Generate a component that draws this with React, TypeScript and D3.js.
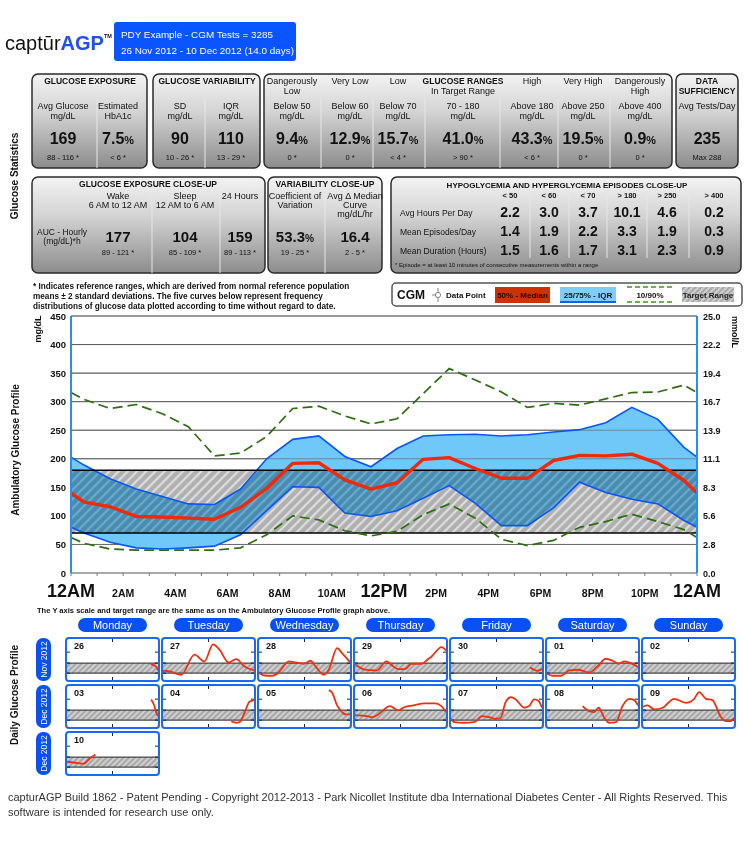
import React from 'react';
import * as d3 from 'd3';

const FONT = "'Liberation Sans', Arial, Helvetica, sans-serif";

// ambulatory glucose profile, mg/dL at each half hour
const agpHours = [0, 0.5, 1.5, 2.5, 3.5, 4.5, 5.5, 6.5, 7.5, 8.5, 9.5, 10.5, 11.5, 12.5, 13.5, 14.5, 15.5, 16.5, 17.5, 18.5, 19.5, 20.5, 21.5, 22.5, 23.5, 24];
const p10 = [62, 52, 42, 40, 40, 40, 40, 44, 67, 100, 93, 74, 65, 73, 102, 121, 96, 59, 48, 57, 80, 90, 103, 90, 76, 62];
const p25 = [80, 70, 54, 44, 42, 44, 47, 67, 109, 151, 150, 105, 99, 109, 131, 153, 122, 83, 83, 114, 159, 141, 129, 121, 92, 80];
const p50 = [140, 124, 116, 99, 98, 96, 94, 115, 148, 192, 193, 163, 147, 158, 199, 202, 183, 166, 166, 197, 206, 205, 208, 192, 162, 140];
const p75 = [203, 189, 165, 147, 134, 121, 120, 147, 200, 234, 240, 204, 186, 218, 240, 242, 243, 240, 242, 247, 251, 263, 290, 269, 220, 203];
const p90 = [316, 304, 288, 295, 279, 256, 205, 210, 239, 288, 292, 275, 261, 270, 314, 358, 338, 317, 290, 297, 294, 305, 316, 317, 329, 316];

const mgTicks = [0, 50, 100, 150, 200, 250, 300, 350, 400, 450];
const mmolLabels = ['0.0', '2.8', '5.6', '8.3', '11.1', '13.9', '16.7', '19.4', '22.2', '25.0'];
const hourLabelAt = [0, 2, 4, 6, 8, 10, 12, 14, 16, 18, 20, 22, 24];
const hourLabels = ['12AM', '2AM', '4AM', '6AM', '8AM', '10AM', '12PM', '2PM', '4PM', '6PM', '8PM', '10PM', '12AM'];
const targetRange = [70, 180];

// daily profiles
const weekDays = ['Monday', 'Tuesday', 'Wednesday', 'Thursday', 'Friday', 'Saturday', 'Sunday'];
const weekMonths = ['Nov 2012', 'Dec 2012', 'Dec 2012'];
const dayNumbers = [
  ['26', '27', '28', '29', '30', '01', '02'],
  ['03', '04', '05', '06', '07', '08', '09'],
  ['10'],
];
// [hour, mg/dL]
const dailyTraces: number[][][][] = [
  [
    [[22.1, 169], [23.4, 143], [24, 99]],
    [[0, 96], [1.8, 88], [4.8, 52], [8.3, 272], [10.9, 198], [13.2, 385], [14.9, 327], [17.3, 187], [19.3, 224], [21.5, 143], [24, 99]],
    [[0, 70], [1.3, 44], [3.5, 41], [4.8, 63], [7.9, 198], [9.6, 187], [11.8, 173], [13.6, 206], [14.9, 143], [17.1, 52], [18.4, 107], [20.6, 345], [21.9, 290], [24, 190]],
    [[0, 169], [1.5, 125], [3, 105], [4.5, 103], [5.7, 99], [8.3, 198], [10.1, 143], [11.4, 114], [13.2, 114], [14.9, 173], [17.5, 173], [19.3, 224], [20.2, 253], [22.8, 356], [24, 320]],
    [[20.8, 132], [22.8, 96], [24, 114]],
    [[0, 63], [1.5, 41], [3.7, 41], [5.9, 99], [8.1, 107], [11.1, 77], [13.3, 143], [15.5, 228], [17.3, 206], [18.9, 173], [20.4, 198], [22.1, 180], [24, 136]],
    [],
  ],
  [
    [[22.2, 297], [23, 231], [23.5, 158], [24, 114]],
    [[18, 59], [19.3, 41], [20.2, 48], [21.5, 151], [22.8, 272], [24, 290]],
    [[18.4, 400], [19.3, 371], [20.6, 231], [21.9, 158], [22.8, 132], [24, 132]],
    [[0, 125], [3.2, 114], [4.5, 100], [6.1, 132], [9.2, 224], [11.4, 176], [12.7, 206], [15.4, 231], [18.4, 253], [21.1, 253], [22.8, 224], [24, 158]],
    [[0, 85], [0.8, 48], [3.4, 41], [6.1, 48], [8.2, 114], [10, 103], [11.8, 85], [13.1, 96], [14.4, 268], [15.8, 323], [17.1, 297], [19.3, 206], [20.6, 224], [21.9, 297], [23.1, 279], [24, 206]],
    [[9.4, 224], [11.1, 169], [12.4, 158], [13.6, 206], [15.1, 96], [16.4, 41], [18.2, 48], [19.9, 224], [21.7, 304], [23, 290], [24, 231]],
    [[0, 217], [1.2, 231], [3, 187], [5.2, 206], [8.2, 304], [11.3, 260], [13.5, 304], [14.8, 378], [16.6, 304], [18.3, 290], [20.5, 107], [21.8, 59], [23.2, 59], [24, 96]],
  ],
  [
    [[0, 129], [2.2, 118], [4.4, 107], [5.7, 154], [7.5, 209]],
  ],
];

// statistics
const exposureHeads = [['Avg Glucose', 'mg/dL'], ['Estimated', 'HbA1c']];
const exposureValues = ['169', '7.5'];
const exposureUnits = ['', '%'];
const exposureRefs = ['88 - 116 *', '< 6 *'];
const variabilityHeads = [['SD', 'mg/dL'], ['IQR', 'mg/dL']];
const variabilityValues = ['90', '110'];
const variabilityRefs = ['10 - 26 *', '13 - 29 *'];
const rangeNames = [['Dangerously', 'Low'], ['Very Low'], ['Low'], ['GLUCOSE RANGES', 'In Target Range'], ['High'], ['Very High'], ['Dangerously', 'High']];
const rangeHeads = [['Below 50', 'mg/dL'], ['Below 60', 'mg/dL'], ['Below 70', 'mg/dL'], ['70 - 180', 'mg/dL'], ['Above 180', 'mg/dL'], ['Above 250', 'mg/dL'], ['Above 400', 'mg/dL']];
const rangeValues = ['9.4', '12.9', '15.7', '41.0', '43.3', '19.5', '0.9'];
const rangeRefs = ['0 *', '0 *', '< 4 *', '> 90 *', '< 6 *', '0 *', '0 *'];
const closeUpHeads = [['Wake', '6 AM to 12 AM'], ['Sleep', '12 AM to 6 AM'], ['24 Hours']];
const closeUpValues = ['177', '104', '159'];
const closeUpRefs = ['89 - 121 *', '85 - 109 *', '89 - 113 *'];
const varCloseHeads = [['Coefficient of', 'Variation'], ['Avg \u0394 Median', 'Curve', 'mg/dL/hr']];
const varCloseValues = ['53.3', '16.4'];
const varCloseUnits = ['%', ''];
const varCloseRefs = ['19 - 25 *', '2 - 5 *'];
const episodeCols = ['< 50', '< 60', '< 70', '> 180', '> 250', '> 400'];
const episodeRows = ['Avg Hours Per Day', 'Mean Episodes/Day', 'Mean Duration (Hours)'];
const episodeValues = [
  ['2.2', '3.0', '3.7', '10.1', '4.6', '0.2'],
  ['1.4', '1.9', '2.2', '3.3', '1.9', '0.3'],
  ['1.5', '1.6', '1.7', '3.1', '2.3', '0.9'],
];

const Txt = ({ x, y, children, size = 9, weight = 'normal', anchor = 'middle', fill = '#111', ...rest }: any) => (
  <text x={x} y={y} fontSize={size} fontWeight={weight} textAnchor={anchor} fill={fill} {...rest}>{children}</text>
);

const Box = ({ x, y, w, h }: any) => (
  <rect x={x} y={y} width={w} height={h} rx={6} fill="url(#boxGrad)" stroke="#2b2b2b" strokeWidth={1.5} />
);

const Divider = ({ x, y1, y2 }: any) => <line x1={x} x2={x} y1={y1} y2={y2} stroke="#e6e6e6" strokeWidth={1} />;

const Val = ({ x, y, v, unit, size = 16 }: any) => (
  <text x={x} y={y} textAnchor="middle" fontWeight="bold" fontSize={size} fill="#111">
    {v}
    {unit ? <tspan fontSize={size * 0.68}>{unit}</tspan> : null}
  </text>
);

function Statistics() {
  const r1 = [63, 118];
  const r2 = [180, 231];
  const r3 = [292, 350, 398, 463, 532, 583, 640];
  const c5 = [118, 185, 240];
  const c6 = [295, 355];
  const c7 = [510, 549, 588, 627, 667, 714];
  return (
    <g>
      <Box x={32} y={74} w={115} h={94} />
      <Box x={153} y={74} w={107} h={94} />
      <Box x={264} y={74} w={408} h={94} />
      <Box x={676} y={74} w={62} h={94} />
      <Box x={32} y={177} w={233} h={96} />
      <Box x={268} y={177} w={114} h={96} />
      <Box x={391} y={177} w={350} h={96} />

      <Divider x={97} y1={98} y2={168} />
      <Divider x={205} y1={98} y2={168} />
      {[321, 373, 425, 500, 558, 610].map((d) => <Divider key={d} x={d} y1={98} y2={168} />)}
      <Divider x={152} y1={190} y2={273} />
      <Divider x={220} y1={190} y2={273} />
      <Divider x={325} y1={190} y2={273} />
      {[530, 569, 607, 647, 689].map((d) => <Divider key={d} x={d} y1={191} y2={258} />)}

      <Txt x={90} y={84} size={8.5} weight="bold">GLUCOSE EXPOSURE</Txt>
      {exposureHeads.map((h, i) => h.map((t, j) => <Txt key={i + '-' + j} x={r1[i]} y={109 + j * 9.5}>{t}</Txt>))}
      {exposureValues.map((v, i) => <Val key={i} x={r1[i]} y={144} v={v} unit={exposureUnits[i]} />)}
      {exposureRefs.map((t, i) => <Txt key={i} x={r1[i]} y={160} size={7.5}>{t}</Txt>)}

      <Txt x={207} y={84} size={8.5} weight="bold">GLUCOSE VARIABILITY</Txt>
      {variabilityHeads.map((h, i) => h.map((t, j) => <Txt key={i + '-' + j} x={r2[i]} y={109 + j * 9.5}>{t}</Txt>))}
      {variabilityValues.map((v, i) => <Val key={i} x={r2[i]} y={144} v={v} />)}
      {variabilityRefs.map((t, i) => <Txt key={i} x={r2[i]} y={160} size={7.5}>{t}</Txt>)}

      {rangeNames.map((h, i) => h.map((t, j) => (
        <Txt key={i + '-' + j} x={r3[i]} y={84 + j * 10} size={i === 3 && j === 0 ? 8.5 : 9} weight={i === 3 && j === 0 ? 'bold' : 'normal'}>{t}</Txt>
      )))}
      {rangeHeads.map((h, i) => h.map((t, j) => <Txt key={i + '-' + j} x={r3[i]} y={109 + j * 9.5}>{t}</Txt>))}
      {rangeValues.map((v, i) => <Val key={i} x={r3[i]} y={144} v={v} unit="%" />)}
      {rangeRefs.map((t, i) => <Txt key={i} x={r3[i]} y={160} size={7.5}>{t}</Txt>)}

      <Txt x={707} y={84} size={8.5} weight="bold">DATA</Txt>
      <Txt x={707} y={94} size={8.5} weight="bold">SUFFICIENCY</Txt>
      <Txt x={707} y={109}>Avg Tests/Day</Txt>
      <Val x={707} y={144} v="235" />
      <Txt x={707} y={160} size={7.5}>Max 288</Txt>

      <Txt x={148} y={187} size={8.5} weight="bold">GLUCOSE EXPOSURE CLOSE-UP</Txt>
      {closeUpHeads.map((h, i) => h.map((t, j) => <Txt key={i + '-' + j} x={c5[i]} y={199 + j * 9}>{t}</Txt>))}
      <Txt x={62} y={235} size={8.5}>AUC - Hourly</Txt>
      <Txt x={62} y={243.5} size={8.5}>(mg/dL)*h</Txt>
      {closeUpValues.map((v, i) => <Val key={i} x={c5[i]} y={242} v={v} size={15} />)}
      {closeUpRefs.map((t, i) => <Txt key={i} x={c5[i]} y={255} size={7.5}>{t}</Txt>)}

      <Txt x={325} y={187} size={8.5} weight="bold">VARIABILITY CLOSE-UP</Txt>
      {varCloseHeads.map((h, i) => h.map((t, j) => <Txt key={i + '-' + j} x={c6[i]} y={199 + j * 9}>{t}</Txt>))}
      {varCloseValues.map((v, i) => <Val key={i} x={c6[i]} y={242} v={v} unit={varCloseUnits[i]} size={15} />)}
      {varCloseRefs.map((t, i) => <Txt key={i} x={c6[i]} y={255} size={7.5}>{t}</Txt>)}

      <Txt x={567} y={188} size={8} weight="bold">HYPOGLYCEMIA AND HYPERGLYCEMIA EPISODES CLOSE-UP</Txt>
      {episodeCols.map((t, i) => <Txt key={i} x={c7[i]} y={198} size={7.5} weight="bold">{t}</Txt>)}
      {episodeRows.map((t, i) => <Txt key={i} x={400} y={216 + i * 19} size={8.5} anchor="start">{t}</Txt>)}
      {episodeValues.map((row, i) => row.map((v, j) => <Val key={i + '-' + j} x={c7[j]} y={217 + i * 19} v={v} size={14} />))}
      <Txt x={395} y={266.5} size={6} anchor="start">* Episode = at least 10 minutes of consecutive measurements within a range</Txt>
    </g>
  );
}

function Legend() {
  return (
    <g>
      <rect x={392} y={283} width={350} height={23} rx={4} fill="#fff" stroke="#555" strokeWidth={1.5} />
      <Txt x={397} y={299} size={12} weight="bold" anchor="start">CGM</Txt>
      <circle cx={438} cy={295} r={2.6} fill="#fff" stroke="#666" strokeWidth={0.8} />
      <line x1={438} x2={438} y1={288} y2={292.4} stroke="#666" strokeWidth={0.8} />
      <line x1={438} x2={438} y1={297.6} y2={302} stroke="#666" strokeWidth={0.8} />
      <line x1={432} x2={435.4} y1={295} y2={295} stroke="#666" strokeWidth={0.8} />
      <Txt x={446} y={298} size={8} weight="bold" anchor="start">Data Point</Txt>
      <rect x={495} y={287} width={55} height={16} fill="#cc3300" />
      <Txt x={522.5} y={298} size={8} weight="bold" fill="#2a0800">50% - Median</Txt>
      <rect x={560} y={287} width={56} height={14} fill="#7fcdf8" />
      <line x1={560} x2={616} y1={302} y2={302} stroke="#1560f0" strokeWidth={2} />
      <Txt x={588} y={298} size={8} weight="bold">25/75% - IQR</Txt>
      <line x1={627} x2={673} y1={287} y2={287} stroke="#3a9a10" strokeWidth={1.5} strokeDasharray="5,3" />
      <line x1={627} x2={673} y1={302} y2={302} stroke="#3a9a10" strokeWidth={1.5} strokeDasharray="5,3" />
      <Txt x={650} y={298} size={8} weight="bold">10/90%</Txt>
      <rect x={682} y={287} width={52} height={15} fill="url(#hatchSmall)" />
      <Txt x={708} y={298} size={8} weight="bold" fill="#222">Target Range</Txt>
    </g>
  );
}

function AGPChart() {
  const x = d3.scaleLinear().domain([0, 24]).range([71, 697]);
  const y = d3.scaleLinear().domain([0, 450]).range([573, 316]);
  const series = (vals: number[]) => agpHours.map((h, i) => [h, vals[i]] as [number, number]);
  const line = d3.line<[number, number]>().x((d) => x(d[0])).y((d) => y(d[1]));
  const band = d3.area<number>()
    .x((_, i) => x(agpHours[i]))
    .y0((_, i) => y(p25[i]))
    .y1((d) => y(d));
  const hours = d3.range(0, 25);
  return (
    <g>
      {mgTicks.filter((t) => t < targetRange[0] || t > targetRange[1]).map((t) => (
        <line key={t} x1={x(0)} x2={x(24)} y1={y(t)} y2={y(t)} stroke="#555" strokeWidth={t === 0 ? 1.2 : 0.9} />
      ))}
      <path d={band(p75) || ''} fill="#6fc8f8" />
      <rect x={x(0)} y={y(targetRange[1])} width={x(24) - x(0)} height={y(targetRange[0]) - y(targetRange[1])}
        fill="url(#hatch)" style={{ mixBlendMode: 'multiply' }} />
      {mgTicks.filter((t) => t > targetRange[1]).map((t) => (
        <line key={'g' + t} x1={x(0)} x2={x(24)} y1={y(t)} y2={y(t)} stroke="#555" strokeWidth={0.9} opacity={0.6} />
      ))}
      <path d={line(series(p75)) || ''} fill="none" stroke="#0a55f5" strokeWidth={1.6} />
      <path d={line(series(p25)) || ''} fill="none" stroke="#0a55f5" strokeWidth={1.6} />
      {targetRange.map((t) => (
        <line key={t} x1={x(0)} x2={x(24)} y1={y(t)} y2={y(t)} stroke="#000" strokeWidth={1.4} />
      ))}
      <path d={line(series(p90)) || ''} fill="none" stroke="#2f6e10" strokeWidth={1.7} strokeDasharray="10,5" />
      <path d={line(series(p10)) || ''} fill="none" stroke="#2f6e10" strokeWidth={1.7} strokeDasharray="10,5" />
      <path d={line(series(p50)) || ''} fill="none" stroke="#f02a08" strokeWidth={3.4} strokeLinejoin="round" />

      <line x1={x(0)} x2={x(0)} y1={y(450)} y2={y(0)} stroke="#2b8cf5" strokeWidth={2} />
      <line x1={x(24)} x2={x(24)} y1={y(450)} y2={y(0)} stroke="#2b8cf5" strokeWidth={2} />
      {hours.map((h) => <line key={h} x1={x(h)} x2={x(h)} y1={y(0)} y2={y(0) + 3} stroke="#777" strokeWidth={1} />)}

      {mgTicks.map((t) => <Txt key={t} x={66} y={y(t) + 3.5} size={9.5} weight="bold" anchor="end">{t}</Txt>)}
      {mmolLabels.map((t, i) => <Txt key={t} x={703} y={y(mgTicks[i]) + 3.5} size={9} weight="bold" anchor="start">{t}</Txt>)}
      {hourLabels.map((t, i) => {
        const big = hourLabelAt[i] % 12 === 0;
        return <Txt key={i} x={x(hourLabelAt[i])} y={597} size={big ? 18 : 10.5} weight="bold">{t}</Txt>;
      })}
      <Txt x={0} y={0} size={9} weight="bold" transform="translate(41,329) rotate(-90)">mg/dL</Txt>
      <Txt x={0} y={0} size={9} weight="bold" transform="translate(732,332) rotate(90)">mmol/L</Txt>
    </g>
  );
}

function DailyProfiles() {
  const colX = (i: number) => 66 + i * 96;
  const rowY = (j: number) => 638 + j * 47;
  const pw = 93;
  const ph = 43;
  return (
    <g>
      <Txt x={37} y={613} size={7.55} weight="bold" anchor="start">
        The Y axis scale and target range are the same as on the Ambulatory Glucose Profile graph above.
      </Txt>
      {weekDays.map((d, i) => (
        <g key={d}>
          <rect x={colX(i) + 12} y={618} width={69} height={14} rx={7} fill="#0a50f5" />
          <Txt x={colX(i) + 46.5} y={629} size={11} fill="#fff">{d}</Txt>
        </g>
      ))}
      {weekMonths.map((m, j) => (
        <g key={j}>
          <rect x={36} y={rowY(j)} width={15} height={ph} rx={7} fill="#0a50f5" />
          <Txt x={0} y={0} size={8.5} fill="#fff" transform={`translate(47.2,${rowY(j) + ph / 2}) rotate(-90)`}>{m}</Txt>
        </g>
      ))}
      {dayNumbers.map((row, j) => row.map((num, i) => {
        const x0 = colX(i);
        const y0 = rowY(j);
        const xs = d3.scaleLinear().domain([0, 24]).range([x0 + 1, x0 + pw - 1]);
        const ys = d3.scaleLinear().domain([0, 450]).range([y0 + 41.5, y0 + 0.5]);
        const ln = d3.line<number[]>().x((d) => xs(d[0])).y((d) => ys(d[1])).curve(d3.curveMonotoneX);
        const trace = dailyTraces[j][i];
        const clipId = `clip-${j}-${i}`;
        return (
          <g key={num + j}>
            <clipPath id={clipId}><rect x={x0} y={y0} width={pw} height={ph} /></clipPath>
            <rect x={x0} y={y0} width={pw} height={ph} fill="#fff" />
            <rect x={x0} y={ys(targetRange[1])} width={pw} height={ys(targetRange[0]) - ys(targetRange[1])} fill="url(#hatchSmall)" />
            {targetRange.map((t) => <line key={t} x1={x0} x2={x0 + pw} y1={ys(t)} y2={ys(t)} stroke="#222" strokeWidth={1} />)}
            {[70, 180, 300].map((t) => (
              <g key={'t' + t}>
                <line x1={x0} x2={x0 + 4} y1={ys(t)} y2={ys(t)} stroke="#222" strokeWidth={1} />
                <line x1={x0 + pw - 4} x2={x0 + pw} y1={ys(t)} y2={ys(t)} stroke="#222" strokeWidth={1} />
              </g>
            ))}
            <line x1={xs(12)} x2={xs(12)} y1={y0} y2={y0 + 4} stroke="#222" strokeWidth={1} />
            <line x1={xs(12)} x2={xs(12)} y1={y0 + ph - 4} y2={y0 + ph} stroke="#222" strokeWidth={1} />
            {trace.length > 1 && (
              <path d={ln(trace) || ''} fill="none" stroke="#f03010" strokeWidth={1.8} clipPath={`url(#${clipId})`} />
            )}
            <Txt x={x0 + 8} y={y0 + 11} size={9} weight="bold" anchor="start">{num}</Txt>
            <rect x={x0} y={y0} width={pw} height={ph} rx={3} fill="none" stroke="#1a6af5" strokeWidth={2} />
          </g>
        );
      }))}
    </g>
  );
}

export default function App() {
  return (
    <svg width={748} height={847} style={{ position: 'absolute', left: 0, top: 0, fontFamily: FONT, background: '#fff' }}>
      <defs>
        <linearGradient id="boxGrad" x1="0" y1="0" x2="0" y2="1">
          <stop offset="0%" stopColor="#f3f3f3" />
          <stop offset="40%" stopColor="#d4d4d4" />
          <stop offset="100%" stopColor="#8c8c8c" />
        </linearGradient>
        <pattern id="hatch" width={6.5} height={6.5} patternUnits="userSpaceOnUse" patternTransform="rotate(45)">
          <rect width={6.5} height={6.5} fill="#b0b0b0" />
          <line x1={1.2} x2={1.2} y1={0} y2={6.5} stroke="#e2e2e2" strokeWidth={2} />
        </pattern>
        <pattern id="hatchSmall" width={4} height={4} patternUnits="userSpaceOnUse" patternTransform="rotate(45)">
          <rect width={4} height={4} fill="#a8a8a8" />
          <line x1={1} x2={1} y1={0} y2={4} stroke="#e0e0e0" strokeWidth={1.4} />
        </pattern>
      </defs>
      <rect width={748} height={847} fill="#fff" />

      <text x={5} y={50} fontSize={20} fill="#111">
        captūr<tspan fontWeight="bold" fill="#1f4ef5">AGP</tspan>
        <tspan fontSize={5.5} dy={-12} fontWeight="bold">TM</tspan>
      </text>
      <rect x={114} y={22} width={182} height={39} rx={3} fill="#0a55ff" />
      <Txt x={121} y={38} size={9.9} anchor="start" fill="#fff">PDY Example - CGM Tests = 3285</Txt>
      <Txt x={121} y={54} size={9.9} anchor="start" fill="#fff">26 Nov 2012 - 10 Dec 2012 (14.0 days)</Txt>

      <Txt x={0} y={0} size={10} weight="bold" transform="translate(18,176) rotate(-90)">Glucose Statistics</Txt>
      <Txt x={0} y={0} size={10} weight="bold" transform="translate(19,450) rotate(-90)">Ambulatory Glucose Profile</Txt>
      <Txt x={0} y={0} size={10} weight="bold" transform="translate(18,695) rotate(-90)">Daily Glucose Profile</Txt>

      <Statistics />

      <Txt x={33} y={289} size={8.2} weight="bold" anchor="start">* Indicates reference ranges, which are derived from normal reference population</Txt>
      <Txt x={33} y={299} size={8.2} weight="bold" anchor="start">means ± 2 standard deviations. The five curves below represent frequency</Txt>
      <Txt x={33} y={309} size={8.2} weight="bold" anchor="start">distributions of glucose data plotted according to time without regard to date.</Txt>

      <Legend />
      <AGPChart />
      <DailyProfiles />

      <Txt x={8} y={801} size={11} anchor="start" fill="#333">
        capturAGP Build 1862 - Patent Pending - Copyright 2012-2013 - Park Nicollet Institute dba International Diabetes Center - All Rights Reserved. This
      </Txt>
      <Txt x={8} y={816} size={11} anchor="start" fill="#333">software is intended for research use only.</Txt>
    </svg>
  );
}
